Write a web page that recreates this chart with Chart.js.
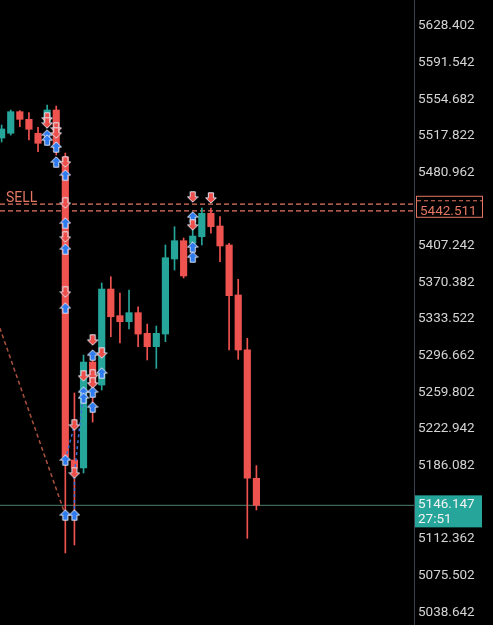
<!DOCTYPE html>
<html>
<head>
<meta charset="utf-8">
<script src="https://cdn.jsdelivr.net/npm/chart.js@4.4.1/dist/chart.umd.min.js"></script>
<style>
  html, body { margin: 0; padding: 0; background: #000; overflow: hidden; }
  #wrap { width: 493px; height: 625px; }
</style>
</head>
<body>
<div id="wrap"><canvas id="chart" width="493" height="625"></canvas></div>
<script>
// candles, oldest first
const candleIdx = [0, 1, 2, 3, 4, 5, 6, 7, 8, 9, 10, 11, 12, 13, 14, 15, 16, 17, 18, 19, 20, 21, 22, 23, 24, 25, 26, 27, 28];
const opens  = [5515.7, 5520.5, 5542.2, 5534.5, 5520.5, 5531.8, 5543.9, 5496.6, 5191.8, 5183.7, 5290.4, 5267.2, 5363.8, 5337.0, 5330.9, 5340.0, 5319.2, 5305.8, 5318.5, 5394.0, 5412.4, 5409.8, 5416.4, 5440.0, 5427.2, 5408.1, 5357.8, 5302.5, 5173.4];
const highs  = [5528.8, 5543.9, 5543.2, 5541.2, 5526.5, 5548.9, 5547.9, 5500.6, 5259.2, 5297.4, 5294.4, 5369.9, 5376.2, 5359.8, 5362.8, 5346.0, 5328.6, 5326.6, 5408.1, 5426.5, 5415.1, 5431.2, 5445.3, 5445.3, 5436.6, 5409.8, 5373.6, 5314.2, 5186.1];
const lows   = [5511.7, 5518.7, 5527.1, 5513.7, 5502.0, 5525.8, 5498.6, 5098.2, 5106.3, 5178.7, 5230.0, 5262.2, 5315.8, 5309.5, 5323.6, 5305.8, 5292.4, 5284.0, 5310.8, 5382.9, 5374.9, 5403.1, 5408.1, 5419.9, 5391.3, 5302.5, 5293.1, 5113.0, 5141.5];
const closes = [5524.8, 5542.2, 5534.5, 5524.5, 5510.4, 5543.9, 5505.7, 5194.8, 5183.7, 5290.4, 5267.2, 5363.8, 5335.9, 5330.9, 5340.0, 5318.5, 5305.8, 5319.2, 5395.3, 5412.4, 5376.9, 5417.1, 5440.0, 5426.5, 5407.1, 5357.1, 5302.5, 5173.4, 5146.147];

// trade markers
const sellMarkX = [5, 5, 6, 6, 7, 7, 7, 7, 10, 11, 9, 10, 10, 8, 8, 21, 23, 21];
const sellMarkY = [5535.9, 5530.8, 5525.8, 5520.8, 5491.6, 5450.3, 5416.1, 5360.8, 5312.5, 5299.4, 5276.3, 5277.3, 5269.3, 5227.0, 5178.7, 5456.4, 5455.4, 5428.2];
const buyMarkX = [5, 5, 6, 6, 7, 7, 7, 7, 10, 11, 9, 10, 9, 10, 7, 7, 8, 21, 21, 21];
const buyMarkY = [5518.7, 5513.7, 5506.7, 5491.6, 5478.5, 5430.2, 5404.1, 5344.7, 5297.4, 5279.3, 5260.2, 5260.2, 5254.2, 5245.1, 5191.8, 5136.5, 5136.5, 5436.3, 5406.1, 5396.0];

// trade connector lines [x1, y1, x2, y2]
const tradeLinks = [[7, 5191.8, 8, 5227.0], [8, 5136.5, 8, 5178.7], [8, 5178.7, 9, 5260.2]];
const trendX = [-0.2, 7];
const trendY = [5324.6, 5136.5];

const sellLevels = [5449.3, 5442.511];
const sellLabel = 'SELL';
const sellPriceLabel = '5442.511';
const lastPrice = 5146.147;
const countdown = '27:51';

const tickValues = [5628.402, 5591.542, 5554.682, 5517.822, 5480.962, 5407.242, 5370.382, 5333.522,
  5296.662, 5259.802, 5222.942, 5186.082, 5112.362, 5075.502, 5038.642];

const UP = '#26a69a';
const DOWN = '#ef5350';
const SALMON = '#e57763';
const X_MIN = -0.18, X_MAX = 45.32;

const candleColors = candleIdx.map((_, i) => (closes[i] >= opens[i] ? UP : DOWN));

function makeArrow(up, fill) {
  const c = document.createElement('canvas');
  c.width = 12;
  c.height = 12;
  const g = c.getContext('2d');
  g.save();
  if (!up) { g.translate(0, 12); g.scale(1, -1); }
  g.beginPath();
  g.moveTo(6, 0.8);
  g.lineTo(11.3, 6.1);
  g.lineTo(8.6, 6.1);
  g.lineTo(8.6, 11.2);
  g.lineTo(3.4, 11.2);
  g.lineTo(3.4, 6.1);
  g.lineTo(0.7, 6.1);
  g.closePath();
  g.fillStyle = fill;
  g.fill();
  g.lineWidth = 1;
  g.strokeStyle = '#dfe4f0';
  g.stroke();
  g.restore();
  return c;
}

const buyIcon = makeArrow(true, '#2f7cf0');
const sellIcon = makeArrow(false, '#ef4f4b');

const datasets = [
  {
    type: 'scatter',
    data: sellMarkX.map((x, i) => ({ x, y: sellMarkY[i] })),
    pointStyle: sellIcon,
    pointRadius: 6,
    order: 0,
  },
  {
    type: 'scatter',
    data: buyMarkX.map((x, i) => ({ x, y: buyMarkY[i] })),
    pointStyle: buyIcon,
    pointRadius: 6,
    order: 0,
  },
  ...tradeLinks.map((s) => ({
    type: 'line',
    data: [{ x: s[0], y: s[1] }, { x: s[2], y: s[3] }],
    borderColor: '#3a6fd8',
    borderWidth: 1.5,
    borderDash: [3, 3],
    pointRadius: 0,
    order: 1,
  })),
  {
    type: 'line',
    data: trendX.map((x, i) => ({ x, y: trendY[i] })),
    borderColor: '#a9503f',
    borderWidth: 1.5,
    borderDash: [4, 3],
    pointRadius: 0,
    order: 1,
  },
  {
    type: 'bar',
    data: candleIdx.map((x, i) => ({ x, y: [Math.min(opens[i], closes[i]), Math.max(opens[i], closes[i])] })),
    backgroundColor: candleColors,
    borderWidth: 0,
    grouped: false,
    categoryPercentage: 1,
    barPercentage: 1,
    maxBarThickness: 6.5,
    minBarLength: 1,
    order: 2,
  },
  {
    type: 'bar',
    data: candleIdx.map((x, i) => ({ x, y: [lows[i], highs[i]] })),
    backgroundColor: candleColors,
    borderWidth: 0,
    grouped: false,
    categoryPercentage: 1,
    barPercentage: 1,
    maxBarThickness: 1,
    order: 3,
  },
  ...sellLevels.map((p) => ({
    type: 'line',
    data: [{ x: X_MIN, y: p }, { x: X_MAX, y: p }],
    borderColor: SALMON,
    borderWidth: 1.2,
    borderDash: [5, 3],
    pointRadius: 0,
    order: 4,
  })),
  {
    type: 'line',
    data: [{ x: X_MIN, y: lastPrice }, { x: X_MAX, y: lastPrice }],
    borderColor: '#3b6658',
    borderWidth: 1.2,
    pointRadius: 0,
    order: 4,
  },
];

const overlay = {
  id: 'overlay',
  afterDraw(chart) {
    const { ctx } = chart;
    const y = chart.scales.y;
    ctx.save();
    ctx.font = '14px Roboto';
    ctx.fillStyle = SALMON;
    ctx.textBaseline = 'alphabetic';
    ctx.fillText(sellLabel, 6, y.getPixelForValue(sellLevels[0]) - 2);

    // sell order box on the price axis
    const ys = y.getPixelForValue(sellLevels[1]);
    ctx.fillStyle = '#000';
    ctx.fillRect(416, ys - 14.5, 66, 21);
    ctx.strokeStyle = SALMON;
    ctx.lineWidth = 1;
    ctx.strokeRect(416.5, ys - 14.5, 66, 21);
    ctx.setLineDash([4, 3]);
    ctx.beginPath();
    ctx.moveTo(417, ys - 10);
    ctx.lineTo(482, ys - 10);
    ctx.stroke();
    ctx.setLineDash([]);
    ctx.font = '13.5px Roboto';
    ctx.fillStyle = SALMON;
    ctx.textBaseline = 'middle';
    ctx.fillText(sellPriceLabel, 420, ys + 1);

    // last price box
    const yl = y.getPixelForValue(lastPrice);
    ctx.fillStyle = UP;
    ctx.fillRect(415, yl - 10, 67, 32);
    ctx.fillStyle = '#f2f2f2';
    ctx.fillText(lastPrice.toFixed(3), 418, yl - 1);
    ctx.fillText(countdown, 418, yl + 14);
    ctx.restore();
  },
};

new Chart(document.getElementById('chart'), {
  type: 'bar',
  data: { datasets },
  options: {
    responsive: false,
    animation: false,
    devicePixelRatio: 1,
    layout: { padding: 0, autoPadding: false },
    plugins: { legend: { display: false }, tooltip: { enabled: false } },
    scales: {
      x: { type: 'linear', min: X_MIN, max: X_MAX, offset: false, display: false },
      y: {
        position: 'right',
        min: 5025.8,
        max: 5654.56,
        grid: { display: false, drawTicks: false },
        border: { display: true, color: '#3a404e', width: 1 },
        ticks: {
          color: '#d4d4d4',
          font: { family: 'Roboto', size: 13.5 },
          padding: 4,
          callback: (v) => Number(v).toFixed(3),
        },
        afterBuildTicks: (s) => { s.ticks = tickValues.map((v) => ({ value: v })); },
        afterFit: (s) => { s.width = 79; s.paddingTop = 0; s.paddingBottom = 0; },
      },
    },
  },
  plugins: [overlay],
});
</script>
</body>
</html>
